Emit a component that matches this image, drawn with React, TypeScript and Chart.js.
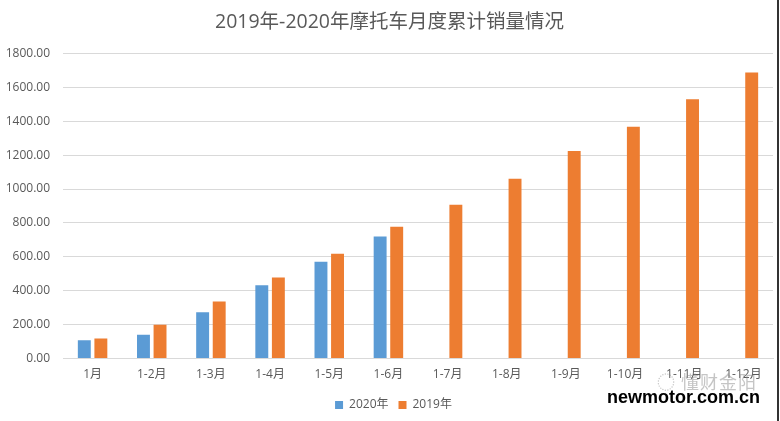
import React, { useEffect, useRef } from "react";
import { Chart, registerables } from "chart.js";

Chart.register(...registerables);

const categories = ["1月", "1-2月", "1-3月", "1-4月", "1-5月", "1-6月", "1-7月", "1-8月", "1-9月", "1-10月", "1-11月", "1-12月"];
const sales2020: (number | null)[] = [108, 140, 273, 432, 571, 720, null, null, null, null, null, null];
const sales2019: number[] = [118, 200, 337, 479, 618, 777, 907, 1060, 1225, 1368, 1530, 1688];
const yTicks = { min: 0, max: 1800, step: 200 };
const titleText = "2019年-2020年摩托车月度累计销量情况";
const seriesNames = ["2020年", "2019年"];

const FONT = "'Open Sans', 'Noto Sans CJK SC', sans-serif";

const shiftBlocks = {
  id: "shiftBlocks",
  afterLayout(chart: any) {
    if (chart.legend) chart.legend.left += 14;
    if (chart.titleBlock) chart.titleBlock.left += 6;
  },
};

export default function App() {
  const ref = useRef<HTMLCanvasElement | null>(null);

  useEffect(() => {
    document.body.style.margin = "0";
    const canvas = ref.current;
    if (!canvas) return;
    const chart = new Chart(canvas, {
      type: "bar",
      data: {
        labels: categories,
        datasets: [
          {
            label: seriesNames[0],
            data: sales2020,
            backgroundColor: "#5B9BD5",
            categoryPercentage: 0.56,
            barPercentage: 0.78,
          },
          {
            label: seriesNames[1],
            data: sales2019,
            backgroundColor: "#ED7D31",
            categoryPercentage: 0.56,
            barPercentage: 0.78,
          },
        ],
      },
      plugins: [shiftBlocks],
      options: {
        animation: false,
        responsive: false,
        devicePixelRatio: 1,
        layout: { padding: { left: 0, right: 7, top: 0, bottom: 0 } },
        plugins: {
          title: {
            display: true,
            text: titleText,
            color: "#595959",
            font: { family: FONT, size: 19.5, weight: "normal" },
            padding: { top: 11, bottom: 19 },
          },
          legend: {
            position: "bottom",
            labels: {
              boxWidth: 8,
              boxHeight: 8,
              padding: 10,
              color: "#595959",
              font: { family: FONT, size: 12 },
            },
          },
          tooltip: { enabled: false },
        },
        scales: {
          x: {
            grid: { display: false },
            border: { display: true, color: "#d9d9d9" },
            afterFit: (scale: any) => {
              scale.height += 6;
            },
            ticks: {
              color: "#595959",
              font: { family: FONT, size: 12 },
              padding: 1,
              maxRotation: 0,
              autoSkip: false,
            },
          },
          y: {
            min: yTicks.min,
            max: yTicks.max,
            border: { display: false },
            grid: { color: "#d9d9d9", drawTicks: false },
            afterFit: (scale: any) => {
              scale.width = 63;
            },
            ticks: {
              stepSize: yTicks.step,
              color: "#595959",
              font: { family: FONT, size: 12 },
              padding: 13,
              callback: (v: any) => Number(v).toFixed(2),
            },
          },
        },
      },
    });
    return () => chart.destroy();
  }, []);

  return (
    <div style={{ position: "relative", width: 780, height: 421, background: "#fff", overflow: "hidden" }}>
      <canvas ref={ref} width={780} height={421} style={{ display: "block" }} />
      <div style={{ position: "absolute", left: 777, top: 0, width: 2, height: 421, background: "#333" }} />
      <div
        style={{
          position: "absolute",
          left: 657,
          top: 368,
          whiteSpace: "nowrap",
          fontFamily: "'Noto Sans CJK SC', sans-serif",
          fontSize: 18,
          color: "rgba(140,140,140,0.5)",
          letterSpacing: 1,
        }}
      >
        ◌ 懂财金阳
      </div>
      <div
        style={{
          position: "absolute",
          left: 607,
          top: 387,
          whiteSpace: "nowrap",
          fontFamily: "'Liberation Sans', Arial, sans-serif",
          fontWeight: "bold",
          fontSize: 18,
          color: "#000",
        }}
      >
        newmotor.com.cn
      </div>
    </div>
  );
}
